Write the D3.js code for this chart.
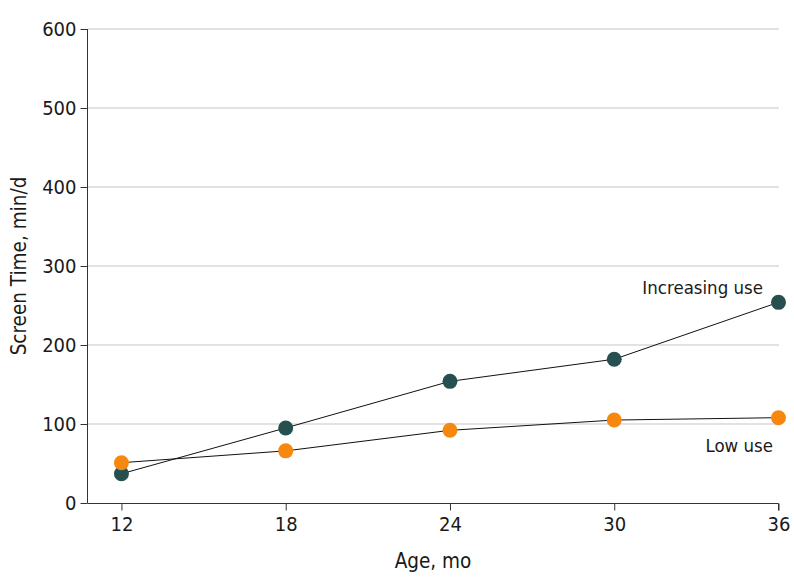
<!DOCTYPE html>
<html><head><meta charset="utf-8">
<script src="https://cdn.jsdelivr.net/npm/d3@7"></script>
<style>body{margin:0;background:#fff}svg{display:block}text{font-family:"DejaVu Sans Condensed","Liberation Sans Narrow",sans-serif;fill:#1a1a1a}</style>
</head><body>
<script>
const ages = [12, 18, 24, 30, 36];
const increasingUse = [37, 95, 154, 182, 254];
const lowUse = [51, 66, 92, 105, 108];
const yTicks = [0, 100, 200, 300, 400, 500, 600];
const seriesNames = ["Increasing use", "Low use"];

const W = 794, H = 588;
const svg = d3.select("body").append("svg").attr("width", W).attr("height", H);
const x = d3.scaleLinear().domain([10.76, 36]).range([87.5, 778.5]);
const y = d3.scaleLinear().domain([0, 600]).range([503, 29]);

svg.append("g").selectAll("line").data(yTicks.filter(d => d > 0)).join("line")
  .attr("x1", 88).attr("x2", 779).attr("y1", d => y(d)).attr("y2", d => y(d))
  .attr("stroke", "#d9d9d9").attr("stroke-width", 1.5);

const yAxis = svg.append("g").attr("transform", "translate(87.5,0)")
  .call(d3.axisLeft(y).tickValues(yTicks).tickSize(7).tickPadding(4));
yAxis.select(".domain").attr("stroke", "#333").attr("d", `M0,${y(600)}V${y(0)}`);
yAxis.selectAll(".tick line").attr("stroke", "#333");

const xAxis = svg.append("g").attr("transform", "translate(0,503.5)")
  .call(d3.axisBottom(x).tickValues(ages).tickSize(7).tickPadding(6));
xAxis.select(".domain").attr("stroke", "#333").attr("d", `M${x.range()[0]},0H${x.range()[1]}V7`);
xAxis.selectAll(".tick line").attr("stroke", "#333");
svg.selectAll(".tick text").attr("font-size", 20).attr("fill", "#1a1a1a")
  .style("font-family", '"DejaVu Sans Condensed","Liberation Sans Narrow",sans-serif');

svg.append("text").attr("x", 433).attr("y", 568).attr("text-anchor", "middle").attr("font-size", 20.5).text("Age, mo");
svg.append("text").attr("transform", "translate(26,266) rotate(-90)").attr("text-anchor", "middle").attr("font-size", 20.5).text("Screen Time, min/d");

const line = d3.line().x((d, i) => x(ages[i])).y(d => y(d));
const series = [
  {vals: increasingUse, color: "#26504f"},
  {vals: lowUse, color: "#f7880f"}
];
series.forEach(s => {
  svg.append("path").datum(s.vals).attr("d", line).attr("fill", "none").attr("stroke", "#111").attr("stroke-width", 1);
});
series.forEach(s => {
  svg.append("g").selectAll("circle").data(s.vals).join("circle")
    .attr("cx", (d, i) => x(ages[i])).attr("cy", d => y(d)).attr("r", 7.5).attr("fill", s.color);
});

svg.append("text").attr("x", 763).attr("y", 294).attr("text-anchor", "end").attr("font-size", 18.5).text(seriesNames[0]);
svg.append("text").attr("x", 773).attr("y", 452).attr("text-anchor", "end").attr("font-size", 18.5).text(seriesNames[1]);
</script>
</body></html>
